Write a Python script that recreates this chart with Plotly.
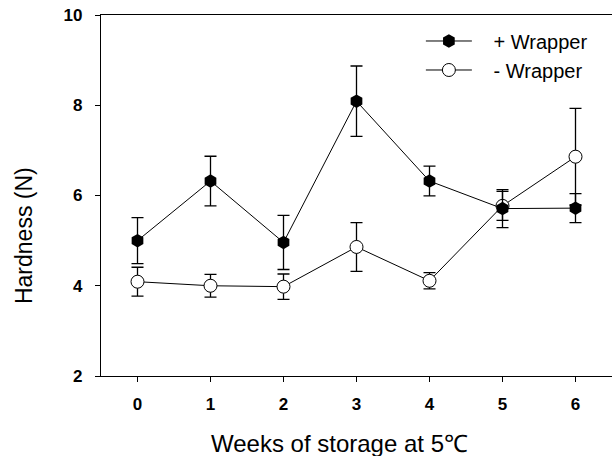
import plotly.graph_objects as go

# Storage time (weeks at 5 °C)
weeks = [0, 1, 2, 3, 4, 5, 6]

# Hardness (N), mean and standard error
wrapped_mean = [5.00, 6.32, 4.96, 8.09, 6.32, 5.71, 5.72]
wrapped_err = [0.51, 0.55, 0.60, 0.78, 0.33, 0.42, 0.32]
unwrapped_mean = [4.09, 4.00, 3.98, 4.86, 4.11, 5.77, 6.86]
unwrapped_err = [0.32, 0.25, 0.28, 0.54, 0.18, 0.32, 1.07]

y_ticks = [2, 4, 6, 8, 10]

FONT = "Arial, Liberation Sans, sans-serif"
PAD = "\u00a0\u00a0\u00a0"  # gap between legend symbol and its label

fig = go.Figure()

fig.add_trace(go.Scatter(
    x=weeks, y=unwrapped_mean, name=PAD + "- Wrapper", mode="lines+markers",
    legendrank=2,
    line=dict(color="black", width=1),
    marker=dict(symbol="circle", size=13, color="white",
                line=dict(color="black", width=1)),
    error_y=dict(type="data", array=unwrapped_err, visible=True,
                 color="black", thickness=1.3, width=6),
))

fig.add_trace(go.Scatter(
    x=weeks, y=wrapped_mean, name=PAD + "+ Wrapper", mode="lines+markers",
    legendrank=1,
    line=dict(color="black", width=1),
    marker=dict(symbol="hexagon", size=13.5, color="black",
                line=dict(color="black", width=0)),
    error_y=dict(type="data", array=wrapped_err, visible=True,
                 color="black", thickness=1.3, width=6),
))

axis_common = dict(
    showgrid=False, zeroline=False, showline=True, linecolor="black",
    linewidth=1.3, ticks="outside", ticklen=5, tickcolor="black",
    tickwidth=1.3, tickfont=dict(family=FONT, size=17, color="black",
                                 weight="bold"),
    ticklabelstandoff=7,
)

fig.update_xaxes(range=[-0.5, 6.5], tickvals=weeks, mirror=True,
                 **axis_common)
fig.update_yaxes(range=[2, 10], tickvals=y_ticks, ticklabelstandoff=9,
                 **{k: v for k, v in axis_common.items()
                    if k != "ticklabelstandoff"})

fig.update_layout(
    width=616, height=456,
    margin=dict(l=101, r=4, t=15, b=80),
    plot_bgcolor="white", paper_bgcolor="white",
    font=dict(family=FONT, color="black"),
    showlegend=True,
    legend=dict(x=0.626, y=0.982, xanchor="left", yanchor="top",
                bgcolor="rgba(0,0,0,0)", font=dict(size=20, family=FONT),
                itemwidth=46, tracegroupgap=0),
    annotations=[
        dict(text="Weeks of storage at 5℃", xref="paper", yref="paper",
             x=0.466, y=-0.1856, xanchor="center", yanchor="middle",
             showarrow=False, font=dict(size=24, family=FONT)),
        dict(text="Hardness (N)", xref="paper", yref="paper",
             x=-0.151, y=0.39, xanchor="center", yanchor="middle",
             textangle=-90, showarrow=False,
             font=dict(size=23, family=FONT)),
    ],
)

fig.write_html("out.html")
